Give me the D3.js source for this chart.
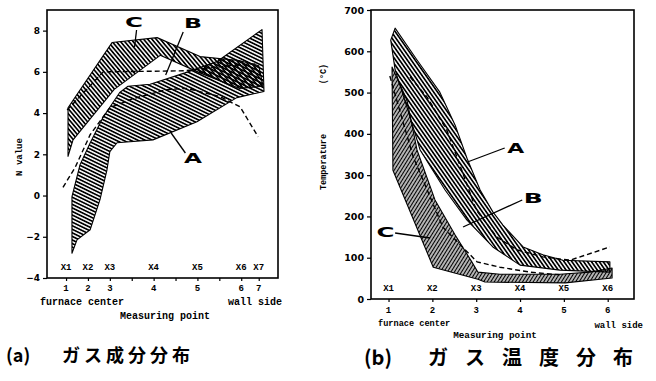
<!DOCTYPE html>
<html><head><meta charset="utf-8">
<script src="https://cdn.jsdelivr.net/npm/d3@7"></script>
<style>body{margin:0;background:#fff}</style>
</head><body><svg id="c" width="656" height="381"></svg>
<script>
// ---------- data : panel (a) gas composition (N value) ----------
const yTicksA = [-4,-2,0,2,4,6,8];
const ptLabelsA = ["X1","X2","X3","X4","X5","X6","X7"];
const ptNumsA = ["1","2","3","4","5","6","7"];
const ptPosA = [0,1,2,4,6,8,8.8];
const minorPosA = [0,1,2,3,4,5,6,7,8,8.8];
const bandA_a = [[0.27,-2.8],[0.27,-0.05],[0.64,1.5],[1.1,2.55],[1.69,3.8],[2.45,5.0],[2.83,5.3],[3.84,5.4],[5.43,5.95],[6.9,6.5],[8.95,8.05],[9.04,5.05],[7.8,4.75],[5.98,3.58],[3.97,2.7],[2.33,2.56],[2.0,2.13],[1.87,1.25],[1.55,-0.2],[1.1,-1.66],[0.5,-2.15]];
const bandC_a = [[0.09,1.9],[0.09,4.26],[2.1,7.42],[4.16,7.66],[6.12,6.74],[7.9,6.55],[8.8,6.3],[9.0,5.3],[7.9,5.2],[6.12,5.95],[4.3,6.8],[2.2,5.15],[0.32,2.7]];
const bUpper_a = [[0.05,4.15],[1.7,6.0],[5.4,6.05],[7.5,6.3],[8.8,6.4]];
const bLower_a = [[-0.14,0.4],[0.41,1.35],[1.1,2.95],[2.0,4.26],[3.06,4.7],[4.6,5.14],[5.5,5.2],[7.03,4.8],[7.95,4.3],[8.77,2.85]];

// ---------- data : panel (b) gas temperature (°C) ----------
const yTicksB = [0,100,200,300,400,500,600,700];
const ptLabelsB = ["X1","X2","X3","X4","X5","X6"];
const ptNumsB = ["1","2","3","4","5","6"];
const ptPosB = [1,2,3,4,5,6];
const bandA_b = [[1.15,656],[1.65,579],[2.17,501],[2.52,421],[2.79,341],[3.09,264],[3.38,211],[3.61,179],[4.07,126],[4.52,107],[4.98,94],[6.05,90],[6.05,65],[4.91,70],[4.0,82],[3.38,126],[2.79,191],[2.29,264],[1.72,361],[1.44,458],[1.15,555],[1.05,627]];
const bandC_b = [[1.08,562],[1.42,482],[1.65,361],[2.06,240],[2.52,155],[2.9,90],[3.04,65],[3.54,60],[4.91,60],[5.6,65],[6.1,75],[6.1,51],[5.03,39],[3.2,41],[3.04,48],[2.02,77],[1.1,312]];
const bUpper_b = [[1.49,538],[1.88,489],[2.33,409],[2.56,344],[3.0,216],[3.47,150],[3.93,119],[4.52,102],[5.14,94],[6.05,126]];
const bLower_b = [[1.03,540],[1.3,440],[1.56,345],[2.24,174],[3.02,90],[3.54,77],[4.23,65],[4.98,58]];

// ---------- drawing ----------
const svg = d3.select("#c");
const defs = svg.append("defs");
function hatch(id, angle, period, sw){
  const p = defs.append("pattern").attr("id",id).attr("patternUnits","userSpaceOnUse")
    .attr("width",period).attr("height",period).attr("patternTransform",`rotate(${angle})`);
  p.append("line").attr("x1",-1).attr("x2",period+1).attr("y1",period/2).attr("y2",period/2)
    .attr("stroke","#000").attr("stroke-width",sw);
}
hatch("hA_a",26,3.2,1.7);
hatch("hC_a",50,3.2,1.7);
hatch("hA_b",55,3.2,1.7);
hatch("hC_b",-58,3.0,1.6);

const mono = "'Liberation Mono','DejaVu Sans Mono',monospace";
const sans = "'DejaVu Sans','Liberation Sans',sans-serif";

function panel(cfg){
  const g = svg.append("g");
  const x = d3.scaleLinear().domain(cfg.xDom).range(cfg.xRange);
  const y = d3.scaleLinear().domain(cfg.yDom).range(cfg.yRange);
  const line = d3.line().x(d=>x(d[0])).y(d=>y(d[1]));
  cfg.bands.forEach(b=>{
    g.append("path").attr("d",line(b.pts)+"Z").attr("fill",`url(#${b.pat})`)
      .attr("stroke","#000").attr("stroke-width",1.1).attr("stroke-linejoin","round");
  });
  cfg.dashes.forEach(d=>{
    g.append("path").attr("d",line(d)).attr("fill","none").attr("stroke","#000")
      .attr("stroke-width",1.4).attr("stroke-dasharray","5,3");
  });
  g.append("rect").attr("x",cfg.xRange[0]).attr("y",cfg.yRange[1])
    .attr("width",cfg.xRange[1]-cfg.xRange[0]).attr("height",cfg.yRange[0]-cfg.yRange[1])
    .attr("fill","none").attr("stroke","#000").attr("stroke-width",1.6);
  const ya = g.append("g").attr("transform",`translate(${cfg.xRange[0]},0)`)
    .call(d3.axisLeft(y).tickValues(cfg.yTicks).tickSize(4).tickPadding(3));
  ya.select(".domain").remove();
  ya.selectAll("line").attr("stroke","#000").attr("stroke-width",1.2);
  ya.selectAll("text").attr("font-family",sans).attr("font-weight","bold").attr("font-size",cfg.yFont).attr("fill","#000");
  const xa = g.append("g").attr("transform",`translate(0,${cfg.yRange[0]})`)
    .call(d3.axisBottom(x).tickValues(cfg.minor).tickSize(3).tickFormat(""));
  xa.select(".domain").remove();
  xa.selectAll("line").attr("stroke","#000").attr("stroke-width",1.2);
  g.selectAll(".pl").data(cfg.ptLabels).enter().append("text")
    .attr("x",(d,i)=>x(cfg.ptPos[i])).attr("y",cfg.plY).attr("text-anchor","middle")
    .attr("font-family",mono).attr("font-weight","bold").attr("font-size",9).text(d=>d);
  g.selectAll(".pn").data(cfg.ptNums).enter().append("text")
    .attr("x",(d,i)=>x(cfg.ptPos[i])).attr("y",cfg.pnY).attr("text-anchor","middle")
    .attr("font-family",mono).attr("font-weight","bold").attr("font-size",9).text(d=>d);
  return {g,x,y};
}

const pa = panel({xDom:[-0.87,9.68], xRange:[47,278], yDom:[-4,9], yRange:[278,10],
  yTicks:yTicksA, minor:minorPosA, ptLabels:ptLabelsA, ptNums:ptNumsA, ptPos:ptPosA,
  plY:270, pnY:291, yFont:9,
  bands:[{pts:bandA_a,pat:"hA_a"},{pts:bandC_a,pat:"hC_a"}], dashes:[bUpper_a,bLower_a]});
const pb = panel({xDom:[0.6,6.6], xRange:[371,634], yDom:[0,700], yRange:[299,10],
  yTicks:yTicksB, minor:ptPosB, ptLabels:ptLabelsB, ptNums:ptNumsB, ptPos:ptPosB,
  plY:291, pnY:313, yFont:9.5,
  bands:[{pts:bandA_b,pat:"hA_b"},{pts:bandC_b,pat:"hC_b"}], dashes:[bUpper_b,bLower_b]});

function txt(x,y,s,o={}){
  const t = svg.append("text").attr("x",x).attr("y",y).text(s)
    .attr("font-family",o.ff||mono).attr("font-weight",o.fw||"bold").attr("font-size",o.fs||9)
    .attr("text-anchor",o.anchor||"start");
  if(o.rot) t.attr("transform",`rotate(-90,${x},${y})`);
  if(o.ls) t.attr("letter-spacing",o.ls);
  if(o.tl) t.attr("textLength",o.tl).attr("lengthAdjust","spacingAndGlyphs");
  return t;
}
txt(40,305,"furnace center",{fs:10});
txt(228,305,"wall side",{fs:10});
txt(165,319,"Measuring point",{fs:10,anchor:"middle"});
txt(22,157,"N value",{fs:9,anchor:"middle",rot:true});
txt(378,326,"furnace center",{fs:8.6});
txt(643,328,"wall side",{fs:9,anchor:"end"});
txt(495,338,"Measuring point",{fs:9.3,anchor:"middle"});
txt(326,162,"Temperature",{fs:8.5,anchor:"middle",rot:true});
txt(326,74,"(°C)",{fs:8.5,anchor:"middle",rot:true});

const bigF = "'DejaVu Sans',sans-serif";
function lab(px,py,s,w,x1,y1,x2,y2){
  svg.append("line").attr("x1",x1).attr("y1",y1).attr("x2",x2).attr("y2",y2)
    .attr("stroke","#000").attr("stroke-width",1.3);
  txt(px,py,s,{ff:bigF,fw:"900",fs:14,anchor:"middle",tl:w});
}
lab(pa.x(3.1),27,"C",18, pa.x(3.22),30, pa.x(3.13),47);
lab(pa.x(5.8),28,"B",18, pa.x(5.35),32, pa.x(4.55),75);
lab(pa.x(5.8),163,"A",18, pa.x(5.45),153, pa.x(4.8),133);
lab(pb.x(3.9),153,"A",17, pb.x(3.65),148, pb.x(2.8),162);
lab(pb.x(4.3),203,"B",19, pb.x(4.05),200, pb.x(2.7),227);
lab(pb.x(0.93),237,"C",18, pb.x(1.15),233, pb.x(1.95),238);

const cjk = "'Noto Sans CJK JP','Noto Sans CJK SC',sans-serif";
txt(6,362,"(a)",{ff:cjk,fs:18,fw:"bold"});
txt(62,362,"ガス成分分布",{ff:cjk,fs:18,fw:"bold",ls:4});
txt(364,365,"(b)",{ff:cjk,fs:20,fw:"bold"});
txt(428,365,"ガス温度分布",{ff:cjk,fs:20,fw:"bold",ls:17});
</script></body></html>
